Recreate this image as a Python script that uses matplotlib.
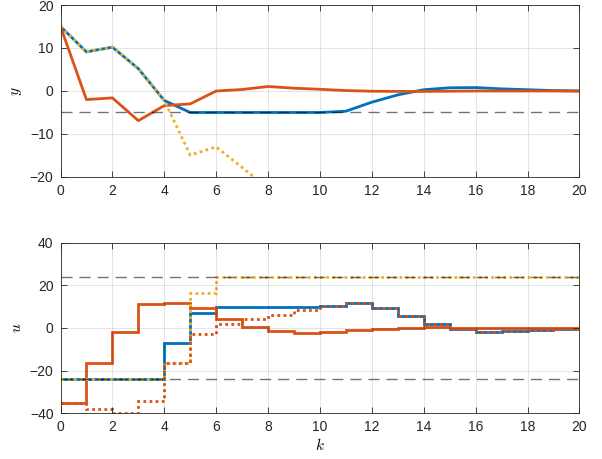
import numpy as np
import matplotlib
matplotlib.use("Agg")
import matplotlib.pyplot as plt

plt.rcParams['font.family'] = ['Liberation Sans', 'DejaVu Sans']
plt.rcParams['mathtext.fontset'] = 'cm'

# output trajectories y(k)
k = np.arange(0, 21)
y_blue = [15, 9.1, 10.2, 5.2, -2.2, -5, -5, -5, -5, -5, -5, -4.7, -2.6, -0.9, 0.3, 0.75, 0.8, 0.5, 0.3, 0.1, 0]
y_orange = [15, -2.0, -1.6, -6.9, -3.4, -3.0, 0.0, 0.35, 1.05, 0.65, 0.4, 0.1, -0.05, -0.1, -0.1, -0.05, 0, 0, 0, 0, 0]
k_yellow = np.arange(0, 9)
y_yellow = [15, 9.1, 10.2, 5.2, -2.2, -14.9, -13.0, -17.8, -22.6]
y_ref = -5

# inputs u(k), held from k to k+1
u_blue = [-24, -24, -24, -24, -6.9, 7.0, 10, 10, 10, 10, 10.3, 11.9, 9.5, 5.6, 1.7, -0.6, -1.7, -1.4, -0.9, -0.5]
u_orange = [-35.3, -16.3, -2.0, 11.2, 11.8, 9.3, 4.1, 0.6, -1.4, -2.2, -2.0, -0.9, -0.5, 0.2, 0.3, 0.2, 0, 0, 0, 0]
u_yellow = [-24, -24, -24, -24, -16.6, 16.4, 24, 24, 24, 24, 24, 24, 24, 24, 24, 24, 24, 24, 24, 24]
u_orange_dot = [-35.3, -38.1, -39.7, -34.3, -16.6, -3.0, 1.7, 4.1, 6.1, 8.4, 10.3, 11.9, 9.5, 5.6, 1.7, -0.6, -1.7, -1.4, -0.9, -0.5]
u_max, u_min = 24, -24

c_blue = '#0072BD'
c_orange = '#D95319'
c_yellow = '#EDB120'
dots = (0, (1, 1.2))
dash = (0, (8, 5))

fig = plt.figure(figsize=(6.02, 4.59), dpi=100)
ax1 = fig.add_axes([0.1005, 0.6144, 0.862, 0.3747])
ax2 = fig.add_axes([0.1005, 0.0996, 0.862, 0.3717])

def style(ax):
    ax.set_xlim(0, 20)
    ax.set_xticks(range(0, 21, 2))
    ax.grid(True, color='k', alpha=0.1, linewidth=0.8)
    ax.tick_params(direction='in', top=True, right=True, length=4, width=0.6,
                   labelsize=10, colors='0.15', pad=5)
    for s in ax.spines.values():
        s.set_color('0.15')
        s.set_linewidth(0.6)

ax1.plot(k, y_blue, color=c_blue, lw=2)
ax1.plot(k, y_orange, color=c_orange, lw=2)
ax1.plot(k_yellow, y_yellow, color=c_yellow, lw=2, ls=dots)
ax1.axhline(y_ref, color='k', lw=1, ls=dash, alpha=0.55)
ax1.set_ylim(-20, 20)
ax1.set_yticks([-20, -10, 0, 10, 20])
ax1.set_ylabel('$y$', fontsize=11, labelpad=4)
style(ax1)

edges = np.arange(0, 21)
ax2.stairs(u_blue, edges, color=c_blue, lw=2, baseline=None)
ax2.stairs(u_orange, edges, color=c_orange, lw=2, baseline=None)
ax2.stairs(u_yellow, edges, color=c_yellow, lw=2, ls=dots, baseline=None)
ax2.stairs(u_orange_dot, edges, color=c_orange, lw=2, ls=dots, baseline=None)
ax2.axhline(u_max, color='k', lw=1, ls=dash, alpha=0.55)
ax2.axhline(u_min, color='k', lw=1, ls=dash, alpha=0.55)
ax2.set_ylim(-40, 40)
ax2.set_yticks([-40, -20, 0, 20, 40])
ax2.set_ylabel('$u$', fontsize=11, labelpad=4)
ax2.set_xlabel('$k$', fontsize=11, labelpad=2)
style(ax2)

fig.savefig('out.png', dpi=100)
